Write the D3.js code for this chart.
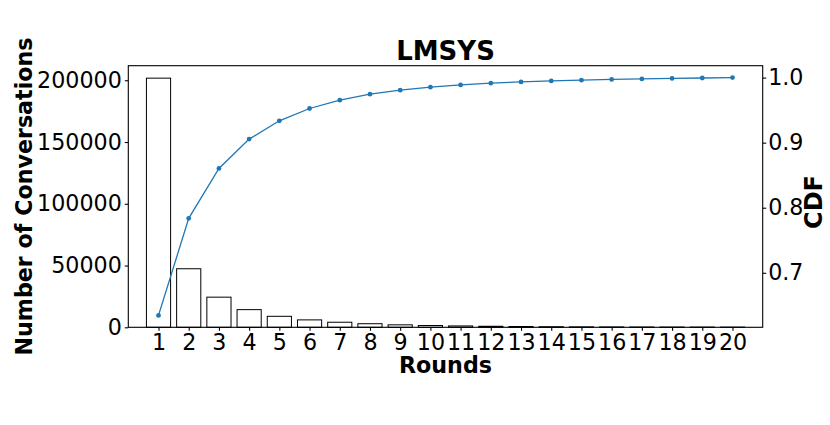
<!DOCTYPE html>
<html>
<head>
<meta charset="utf-8">
<script src="https://cdn.jsdelivr.net/npm/d3@7"></script>
<style>
  body { margin: 0; background: #fff; }
  svg { display: block; font-family: "DejaVu Sans", sans-serif; }
</style>
</head>
<body>
<svg id="chart" width="830" height="425"></svg>
<script>
const rounds = [1,2,3,4,5,6,7,8,9,10,11,12,13,14,15,16,17,18,19,20];
const conversations = [201700, 47400, 24400, 14300, 8900, 6000, 4100, 2900, 2000, 1450, 1100, 830, 640, 480, 360, 300, 250, 210, 180, 150];
const cdf = [0.6345, 0.7837, 0.8604, 0.9055, 0.9336, 0.9525, 0.9653, 0.9745, 0.9807, 0.9853, 0.9888, 0.9914, 0.9934, 0.9949, 0.9960, 0.9972, 0.9980, 0.9987, 0.9994, 1.0];
const leftTicks = [0, 50000, 100000, 150000, 200000];
const rightTicks = [0.7, 0.8, 0.9, 1.0];
const title = "LMSYS";
const xLabel = "Rounds";
const yLabel = "Number of Conversations";
const y2Label = "CDF";

const svg = d3.select("#chart");
const L = 128.3, R = 762.7, T = 65.7, B = 327.3;

const x = d3.scaleLinear().domain([0, 21]).range([L, R]);
const yMax = d3.max(conversations) * 1.05;
const y = d3.scaleLinear().domain([0, yMax]).range([B, T]);
const cMin = d3.min(cdf), cMax = d3.max(cdf), pad = (cMax - cMin) * 0.05;
const y2 = d3.scaleLinear().domain([cMin - pad, cMax + pad]).range([B, T]);

const barW = x(0.8) - x(0);

// bars
svg.append("g").selectAll("rect").data(rounds).join("rect")
  .attr("x", (d) => x(d) - barW / 2)
  .attr("y", (d, i) => y(conversations[i]))
  .attr("width", barW)
  .attr("height", (d, i) => B - y(conversations[i]))
  .attr("fill", "#fff")
  .attr("stroke", "#000")
  .attr("stroke-width", 1);

// CDF line
const line = d3.line().x((d) => x(d)).y((d, i) => y2(cdf[i]));
svg.append("path").datum(rounds)
  .attr("d", line)
  .attr("fill", "none")
  .attr("stroke", "#1f77b4")
  .attr("stroke-width", 1.3);
svg.append("g").selectAll("circle").data(rounds).join("circle")
  .attr("cx", (d) => x(d))
  .attr("cy", (d, i) => y2(cdf[i]))
  .attr("r", 2.4)
  .attr("fill", "#1f77b4");

// frame
svg.append("rect")
  .attr("x", L).attr("y", T).attr("width", R - L).attr("height", B - T)
  .attr("fill", "none").attr("stroke", "#000").attr("stroke-width", 1.1);

function styleAxis(g) {
  g.select(".domain").remove();
  g.selectAll(".tick line").attr("stroke", "#000").attr("stroke-width", 1.1);
  g.selectAll(".tick text").attr("fill", "#000").style("font-size", "22.2px")
    .style("font-family", "DejaVu Sans, sans-serif");
}

svg.append("g").attr("transform", `translate(0,${B})`)
  .call(d3.axisBottom(x).tickValues(rounds).tickFormat(d3.format("d")).tickSize(3.5).tickPadding(3.5))
  .call(styleAxis);

svg.append("g").attr("transform", `translate(${L},0)`)
  .call(d3.axisLeft(y).tickValues(leftTicks).tickFormat(d3.format("d")).tickSize(3.5).tickPadding(3))
  .call(styleAxis);

svg.append("g").attr("transform", `translate(${R},0)`)
  .call(d3.axisRight(y2).tickValues(rightTicks).tickFormat(d3.format(".1f")).tickSize(3.5).tickPadding(2))
  .call(styleAxis);

// title and labels
svg.append("text").attr("x", (L + R) / 2).attr("y", 59.5)
  .attr("text-anchor", "middle").style("font-size", "26px").style("font-weight", "bold")
  .text(title);

svg.append("text").attr("x", (L + R) / 2).attr("y", 373)
  .attr("text-anchor", "middle").style("font-size", "22.2px").style("font-weight", "bold")
  .text(xLabel);

svg.append("text")
  .attr("transform", `translate(32,${(T + B) / 2}) rotate(-90)`)
  .attr("text-anchor", "middle").style("font-size", "22.2px").style("font-weight", "bold")
  .text(yLabel);

svg.append("text")
  .attr("transform", `translate(822,202) rotate(-90)`)
  .attr("text-anchor", "middle").style("font-size", "24px").style("font-weight", "bold")
  .text(y2Label);
</script>
</body>
</html>
